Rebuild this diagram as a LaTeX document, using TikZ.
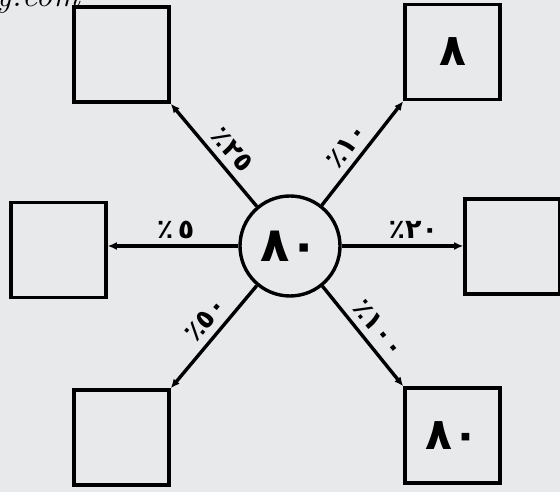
\documentclass[tikz,border=0pt]{standalone}
\usepackage{fontspec}
\newfontfamily\arabicfont{DejaVu Sans}
\usetikzlibrary{arrows.meta}
\definecolor{paper}{RGB}{232,233,235}
\tikzset{
  box/.style={draw, line width=3.6pt, minimum size=95pt, inner sep=0pt,
    font=\arabicfont\bfseries\fontsize{44}{44}\selectfont},
  hub/.style={draw, circle, line width=3.4pt, minimum size=100pt, inner sep=0pt,
    font=\arabicfont\bfseries\fontsize{48}{48}\selectfont},
  link/.style={line width=3.4pt, -{Latex[length=9pt,width=8pt]}},
  pct/.style={font=\arabicfont\bfseries\fontsize{27}{27}\selectfont, inner sep=1pt}
}

\begin{document}
\begin{tikzpicture}[x=1pt,y=1pt]
\fill[paper] (0,0) rectangle (560,492);
\useasboundingbox (0,0) rectangle (560,492);
\node[font=\itshape\fontsize{34}{34}\selectfont, anchor=base west] (mark) at (-8,485) {y.com};

\node[hub] (c) at (290,246) {٨٠};

\node[box] (tl) at (121.5,437.5) {};
\node[box] (tr) at (452.5,440) {٨};
\node[box] (lf) at (58.5,242) {};
\node[box] (rt) at (512.5,245.5) {};
\node[box] (bl) at (121.5,54.5) {};
\node[box] (br) at (452.5,56.5) {٨٠};

\draw[link] (c) -- (tl.south east) node[pct, pos=0.44, sloped, above=6pt] {٪٢٥};
\draw[link] (c) -- (tr.south west) node[pct, pos=0.47, sloped, above=6pt] {٪١٠};
\draw[link] (c) -- (c -| lf.east) node[pct, pos=0.48, above=5pt] {٪\,٥};
\draw[link] (c) -- (c -| rt.west) node[pct, pos=0.59, above=5pt] {٪٢٠};
\draw[link] (c) -- (bl.north east) node[pct, pos=0.44, sloped, above=6pt] {٪٥٠};
\draw[link] (c) -- (br.north west) node[pct, pos=0.53, sloped, above=6pt] {٪١٠٠};
\end{tikzpicture}
\end{document}
